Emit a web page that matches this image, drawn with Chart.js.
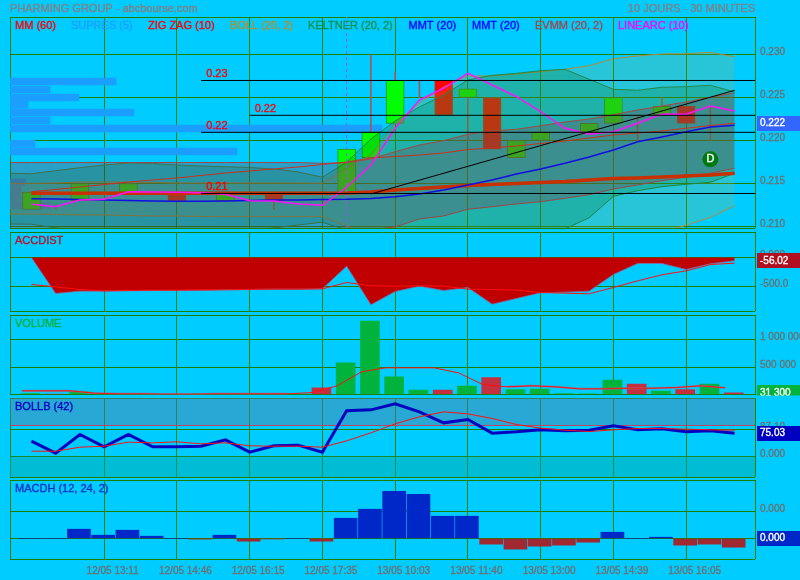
<!DOCTYPE html>
<html><head><meta charset="utf-8">
<style>
html,body{margin:0;padding:0;background:#00ccff;width:800px;height:580px;overflow:hidden}
canvas{position:absolute;left:0;top:0}
</style>
<script src="https://cdn.jsdelivr.net/npm/chart.js@4/dist/chart.umd.min.js"></script>
</head><body>
<canvas id="c1" width="800" height="580"></canvas>
<canvas id="c2" width="800" height="580"></canvas>
<canvas id="c3" width="800" height="580"></canvas>
<canvas id="c4" width="800" height="580"></canvas>
<canvas id="c5" width="800" height="580"></canvas>
<script>
// ---------- DATA ----------
const titleLeft = 'PHARMING GROUP - abcbourse.com';
const titleRight = '10 JOURS - 30 MINUTES';
const legendNames = ['MM (60)','SUPRES (5)','ZIG ZAG (10)','BOLL (20, 2)','KELTNER (20, 2)','MMT (20)','MMT (20)','EVMM (20, 2)','LINEARC (10)'];
const timeTickIndex = [3,6,9,12,15,18,21,24,27];
const timeTickLabels = ['12/05 13:11','12/05 14:46','12/05 16:15','12/05 17:35','13/05 10:03','13/05 11:40','13/05 13:00','13/05 14:39','13/05 16:05'];

const opens  = [.212,.2125,.213,.213,.214,.214,.214,.213,.213,.213,.214,.213,.213,.214,.218,.222,.225,.227,.225,.225,.218,.220,.221,.221,.222,.223,.223,.224,.224,.222];
const closes = [.214,.2125,.215,.213,.215,.214,.213,.213,.214,.213,.213,.213,.213,.219,.221,.227,.225,.223,.226,.219,.220,.221,.221,.222,.225,.223,.224,.222,.224,.222];
const highs  = [.214,.2125,.215,.213,.215,.214,.214,.213,.214,.213,.214,.213,.213,.219,.230,.228,.227,.227,.226,.225,.220,.221,.221,.222,.225,.223,.225,.224,.224,.222];
const lows   = [.212,.212,.213,.213,.214,.214,.213,.213,.213,.213,.212,.213,.213,.214,.218,.222,.225,.223,.220,.219,.218,.220,.221,.221,.222,.220,.223,.222,.220,.222];

const mm60 = [.21386,.21386,.21386,.21386,.21386,.21386,.21386,.21386,.21386,.21386,.21386,.21386,.21386,.2139,.21401,.21424,.21442,.21459,.21477,.21488,.215,.21512,.21523,.21541,.21558,.21564,.21576,.21587,.21599,.21619];
const mmtBlue = [.21323,.2132,.21314,.21308,.21302,.21297,.21293,.21293,.21297,.21302,.21308,.21308,.21314,.21316,.21326,.21347,.21378,.21424,.21483,.21541,.2161,.21669,.21735,.21808,.2189,.21986,.22041,.22102,.22157,.22177];
const mmtRed = [.21405,.2143,.21459,.21488,.21517,.21541,.21564,.21593,.21622,.21645,.21669,.21692,.21721,.2175,.21797,.21814,.21831,.21855,.21895,.21913,.21936,.21965,.21994,.22029,.22064,.22087,.2211,.22142,.22174,.222];
const linearc = [.21258,.2123,.21308,.21316,.21405,.21401,.21398,.21393,.21374,.213,.21297,.21262,.21247,.21456,.21715,.22142,.22471,.22607,.22781,.22645,.22509,.22335,.22142,.22072,.22102,.222,.22308,.22305,.22401,.22343];

// bands: the first value lies just left of the first session
const bollUp = [.21502,.21502,.21506,.21517,.21517,.21517,.21512,.21506,.21506,.21506,.21506,.21506,.21506,.21502,.2168,.21831,.22203,.22436,.22622,.2275,.2275,.22773,.228,.22828,.2287,.22951,.22983,.23006,.23009,.23026,.22971];
const bollLow = [.21145,.21145,.2114,.21134,.21134,.21128,.21122,.21122,.21116,.21114,.21114,.21114,.21114,.21114,.21006,.20866,.20727,.2061,.20587,.20587,.2061,.20634,.20669,.20703,.2075,.20808,.20866,.20936,.21014,.21107,.21242];
const keltUp = [.21619,.21614,.21649,.21684,.21715,.21738,.21733,.21715,.21703,.21695,.21686,.21669,.21634,.21572,.2175,.22017,.22227,.2239,.22529,.22703,.22758,.22781,.22812,.22828,.22712,.22595,.22584,.22619,.22626,.22642,.22564];
const keltLow = [.21029,.21026,.20983,.20948,.20936,.20924,.20924,.20924,.20936,.20936,.20959,.20983,.21017,.21049,.20959,.2089,.2084,.2082,.20808,.20808,.2082,.2084,.20901,.20971,.21102,.21351,.21416,.21463,.21491,.21514,.21619];
const evmmUp = [.21744,.21744,.21744,.21744,.21744,.21744,.21744,.21744,.21744,.21744,.21744,.21744,.21744,.21735,.21741,.21785,.2187,.21948,.21998,.22072,.22114,.2213,.22172,.22215,.2225,.223,.22355,.22401,.22448,.22502,.22556];
const evmmLow = [.20971,.20971,.20971,.20971,.20971,.20971,.20971,.20971,.20971,.20971,.20971,.20971,.20971,.20971,.20971,.20965,.20994,.21087,.21122,.212,.2123,.21262,.21288,.21328,.2137,.21436,.21483,.21533,.21572,.21619,.21677];

const supresLevels = [.22686,.22593,.225,.22416,.22326,.22233,.2214,.21963,.21872,.21514,.21424,.21335,.21244];
const supresReach  = [3.49,.77,1.96,-.14,4.23,.77,14.46,.15,8.48,-.26,-.43,-.43,.77];

const zigLevels = [.22698,.22293,.22095,.21384];
const zigStart  = [7,9,7,7];
const zigLabels = ['0.23','0.22','0.22','0.21'];
const trendStart = [14,.21378];
const trendEnd   = [29,.22584];
const markerIndex = 13;
const dividendPoint = [28,.21781];
const dividendLabel = 'D';

const mainTicks = [.21,.215,.22,.225,.23];
const mainCurrent = .222;

const accDist = [0,-620,-580,-580,-575,-570,-570,-570,-557,-550,-546,-546,-540,-150,-816,-586,-494,-569,-517,-805,-707,-609,-598,-580,-293,-103,-103,-207,-109,-56.02];
const accSignal = [-465,-506,-552,-575,-569,-563,-563,-557,-557,-552,-546,-546,-540,-431,-488,-494,-488,-494,-546,-552,-563,-603,-615,-626,-517,-402,-299,-230,-121,-98];
const accTicks = [0,-500];

const volumes = [18000,6000,48000,8000,6000,5000,4000,5000,6000,5000,6000,7000,121000,576000,1333000,321000,79000,79000,152000,309000,91000,97000,18000,12000,260000,188000,60000,91000,188000,31300];
const volumeUp = [1,0,1,1,1,1,0,1,1,1,0,1,0,1,1,1,1,0,1,0,1,1,1,1,1,0,1,0,1,0];
const volumeAvg = [66700,66700,66700,24000,12000,12000,6000,6000,12000,12000,12000,12000,36000,158000,412000,485000,485000,485000,394000,182000,139000,158000,139000,103000,103000,115000,115000,127000,158000,121000];
const volumeAvgShade = [66700,66700,66700,24000,12000,12000,6000,6000,12000,12000,12000,12000,null,null,null,null,null,null,null,null,139000,158000,139000,103000,103000,115000,115000,127000,158000,121000];
const volumeTicks = [500000,1000000];

const bollB = [49.5,10.8,71,31.2,71,31.2,31.2,33.3,53.8,14,34.4,36.6,14,147.3,150.5,170,144,108.6,119.4,75.3,79.6,86,82.8,85,98.9,86,89.2,79.6,82.8,75.03];
const bollBSignal = [17.2,17.2,30.1,33.3,46.2,44.1,47.3,40.9,44.1,34.4,33.3,33.3,30.1,50.5,76.3,105.4,128,144,137.6,122.6,103.2,91.4,85,80.6,86,90.3,90.3,88.2,86,85];
const bollBTicks = [0,87.1];
const bollBUpperBound = 100;
const bollBLowerBound = 0;

const macdH = [0,0,.000138,.000049,.000123,.000034,0,-.00001,.000049,-.00004,-.000007,0,-.00004,.0003,.000434,.0007,.000656,.00033,.00033,-.000084,-.000158,-.000114,-.000099,-.000055,.000093,0,.000019,-.000099,-.000084,-.000129];
const macdTicks = [0,.0004];

// ---------- STYLE ----------
const FONT = '"Liberation Sans", Arial, sans-serif';
const GRID = '#1f7d00';
const XMIN = -0.8825, XMAX = 29.8392;
const TICK_GRAY = '#6e6e6e';
const legendX = [15,71,148,230,308,408.5,472,535,618];
const legendColors = ['#ff0000','#1a9fff','#ff0000','#b09030','#0f9050','#0000ff','#0000ff','#a04848','#ff00ff'];

const pts = (arr, off=0) => arr.map((v,i)=>({x:i+off,y:v}));
const line = (data, color, width, order, extra={}) => Object.assign({type:'line',data,borderColor:color,borderWidth:width,pointRadius:0,tension:0,fill:false,order,spanGaps:false}, extra);
const bar = (data, color, thick, order, extra={}) => Object.assign({type:'bar',data,backgroundColor:color,barThickness:thick,grouped:false,order,borderWidth:0}, extra);

function drawText(ctx, text, x, y, color, align='left', font='11px '+FONT){
  ctx.font = font; ctx.fillStyle = color; ctx.strokeStyle = color; ctx.lineWidth = .35;
  ctx.textAlign = align; ctx.textBaseline = 'middle';
  ctx.fillText(text, x, y); ctx.strokeText(text, x, y);
}

function panel(id, pad, yMin, yMax, yTicks, fmt, datasets, opt){
  const withTime = !!opt.time;
  const tickVals = [...yTicks];
  new Chart(document.getElementById(id), {
    data:{datasets},
    options:{
      responsive:false, animation:false, devicePixelRatio:1,
      events:[],
      layout:{padding:{left:10,right:0,top:pad[0],bottom:pad[1]}},
      plugins:{legend:{display:false},tooltip:{enabled:false},title:{display:false}},
      scales:{
        x:{type:'linear',min:XMIN,max:XMAX,offset:false,
          afterBuildTicks:s=>{ s.ticks=[XMIN,...timeTickIndex,XMAX].map(v=>({value:v})); },
          afterFit:s=>{ s.height=withTime?21:0; },
          grid:{color:GRID,lineWidth:1,drawTicks:false,drawOnChartArea:true,offset:false},
          border:{display:false},
          ticks:{display:withTime,autoSkip:false,maxRotation:0,minRotation:0,padding:6,labelOffset:8.5,
            font:{family:FONT,size:10},color:TICK_GRAY,textStrokeColor:TICK_GRAY,textStrokeWidth:.3,
            callback:v=>{ const k=timeTickIndex.indexOf(v); return k<0?'':timeTickLabels[k]; }}
        },
        y:{type:'linear',position:'right',min:yMin,max:yMax,offset:false,
          afterBuildTicks:s=>{ s.ticks=[yMin,...tickVals,yMax].map(v=>({value:v})); },
          afterFit:s=>{ s.width=45; },
          grid:{color:GRID,lineWidth:1,drawTicks:false,offset:false},
          border:{display:false},
          ticks:{autoSkip:false,padding:5,labelOffset:-2,crossAlign:'near',
            font:{family:FONT,size:10},color:TICK_GRAY,textStrokeColor:TICK_GRAY,textStrokeWidth:.3,
            callback:v=> (v===yMin||v===yMax)?'':fmt(v)}
        }
      }
    },
    plugins:[{id:'annot'+id,afterDraw(chart){
      const ctx=chart.ctx, sy=chart.scales.y, sx=chart.scales.x, area=chart.chartArea;
      ctx.save();
      if(opt.draw) opt.draw(ctx,sx,sy,area);
      if(opt.label) drawText(ctx,opt.label[0],15,area.top+9,opt.label[1]);
      if(opt.tag){
        const y=sy.getPixelForValue(opt.tag[0]);
        ctx.save();
        ctx.beginPath(); ctx.rect(750,area.top,50,area.bottom-area.top+1); ctx.clip();
        ctx.fillStyle=opt.tag[2];
        ctx.fillRect(757,Math.round(y-7.5),43,15);
        drawText(ctx,opt.tag[1],760,y,'#ffffff','left','10px '+FONT);
        ctx.restore();
      }
      ctx.restore();
    }}]
  });
}

// ---------- MAIN PANEL ----------
const candleColor = c => closes[c.dataIndex]>=opens[c.dataIndex] ? '#00ff00' : '#ff0000';
const candleBorder = c => closes[c.dataIndex]>=opens[c.dataIndex] ? '#2e8f1e' : '#a0402a';
const mainMin = .21-1.5/8600, mainMax = .21+209.5/8600;
const mainSets = [
  ...supresLevels.map((lv,i)=>bar([{x:[XMIN,supresReach[i]],y:lv}],'#1a9fff',7,30,{indexAxis:'y'})),
  bar(highs.map((h,i)=>({x:i,y:[lows[i],h]})),'#a05a5a',1,21),
  bar(opens.map((o,i)=>({x:i,y:[o,closes[i]]})),candleColor,18,20,{borderColor:candleBorder,borderWidth:1,borderSkipped:false}),
  line(pts(bollUp,-1),'#b08a38',1,12,{fill:'+1',backgroundColor:'rgba(200,165,60,.2)'}),
  line(pts(bollLow,-1),'#b08a38',1,12),
  line(pts(keltUp,-1),'#20884a',1,11,{fill:'+1',backgroundColor:'rgba(0,128,30,.25)'}),
  line(pts(keltLow,-1),'#20884a',1,11),
  line(pts(evmmUp,-1),'#a04848',1,10,{fill:'+1',backgroundColor:'rgba(130,60,80,.3)'}),
  line(pts(evmmLow,-1),'#a04848',1,10),
  line(pts(mm60),'#c83000',3.5,6),
  line(pts(mmtRed),'#c83020',1,5),
  line(pts(mmtBlue),'#1010e0',1.5,4),
  line(pts(linearc),'#ff10ff',1.5,3),
  line([{x:markerIndex,y:mainMin},{x:markerIndex,y:mainMax}],'#a050ff',1,3,{borderDash:[3,3]}),
  ...zigLevels.map((lv,i)=>line([{x:zigStart[i],y:lv},{x:XMAX,y:lv}],'#000000',1,2)),
  line([{x:trendStart[0],y:trendStart[1]},{x:trendEnd[0],y:trendEnd[1]}],'#000000',1,2),
  {type:'scatter',data:[{x:dividendPoint[0],y:dividendPoint[1]}],pointRadius:8,pointBackgroundColor:'#007a10',pointBorderWidth:0,order:1}
];
panel('c1',[17,352],mainMin,mainMax,mainTicks,v=>v.toFixed(3),mainSets,{
  tag:[mainCurrent,mainCurrent.toFixed(3),'#3366ff'],
  draw(ctx,sx,sy){
    drawText(ctx,titleLeft,10,9,'#808080');
    drawText(ctx,titleRight,755,9,'#808080','right');
    legendNames.forEach((n,i)=>drawText(ctx,n,legendX[i],25.5,legendColors[i]));
    zigLabels.forEach((t,i)=>drawText(ctx,t,sx.getPixelForValue(zigStart[i])+5,sy.getPixelForValue(zigLevels[i])-6.5,'#ff0000'));
    drawText(ctx,dividendLabel,sx.getPixelForValue(dividendPoint[0]),sy.getPixelForValue(dividendPoint[1]),'#ffffff','center');
  }
});

// ---------- ACCDIST ----------
panel('c2',[232,269],-922.4,439.7,accTicks,v=>v===0?'0.000':v.toFixed(1),[
  line(pts(accDist),'rgba(130,110,170,.8)',1,3,{fill:{value:0},backgroundColor:'#c00000'}),
  line(pts(accSignal),'#ff1010',1,1)
],{label:['ACCDIST','#c01020'],tag:[accDist[29],accDist[29].toFixed(2),'#b0101f']});

// ---------- VOLUME ----------
const fmtVol = v => String(v).replace(/\B(?=(\d{3})+$)/g,' ');
panel('c3',[315,185.5],0,1445455,volumeTicks,fmtVol,[
  bar(pts(volumes,-.04),c=>volumeUp[c.dataIndex]?'#00b33c':'#c43040',19,5),
  line(pts(volumeAvgShade,-.39),'rgba(135,115,145,.85)',2,3),
  line(pts(volumeAvg,-.39),'#ff1010',1,1)
],{label:['VOLUME','#00b040'],tag:[volumes[29],fmtVol(volumes[29]),'#00b33c']});

// ---------- BOLLB ----------
panel('c4',[398,103],-66.1,188.7,bollBTicks,v=>v.toFixed(v===0?3:2),[
  line([{x:XMIN,y:bollBUpperBound},{x:XMAX,y:bollBUpperBound}],'#c04060',1,9,{fill:'end',backgroundColor:'rgba(80,132,169,.5)'}),
  line([{x:XMIN,y:bollBLowerBound},{x:XMAX,y:bollBLowerBound}],'rgba(0,0,0,0)',0,9,{fill:'start',backgroundColor:'rgba(0,172,169,.5)'}),
  line(pts(bollB),'#0404c0',3,2),
  line(pts(bollBSignal),'#ff1010',1,1)
],{label:['BOLLB (42)','#0000c0'],tag:[bollB[29],bollB[29].toFixed(2),'#0000c0']});

// ---------- MACDH ----------
panel('c5',[480,0],-.000304,.000867,macdTicks,v=>v.toFixed(3),[
  bar(pts(macdH,-.04),c=>macdH[c.dataIndex]>=0?'#0028c8':'#a02830',23,5)
],{time:true,label:['MACDH (12, 24, 2)','#0030d0'],tag:[macdH[0],macdH[0].toFixed(3),'#0028c8']});
</script>
</body></html>
